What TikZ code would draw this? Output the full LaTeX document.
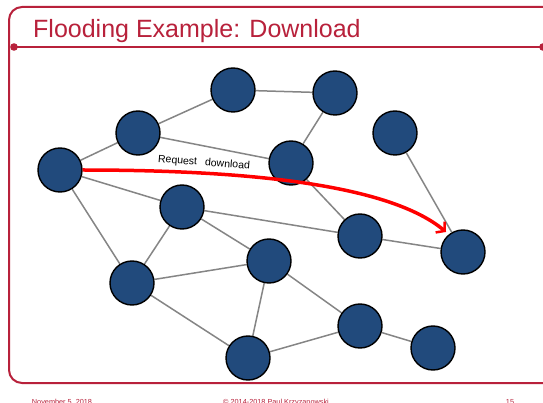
\documentclass[tikz,border=0pt]{standalone}
\usepackage{fontspec}
\setmainfont{Liberation Sans}
\usetikzlibrary{arrows.meta,backgrounds}
\definecolor{slidered}{HTML}{B8213B}
\definecolor{peerblue}{HTML}{214A7C}
\definecolor{linkgray}{HTML}{858585}
\tikzset{
  peer/.style={circle, draw=black, line width=1.4pt, fill=peerblue, minimum size=44pt, inner sep=0pt},
  link/.style={draw=linkgray, line width=1.5pt},
  request/.style={draw=red, line width=3.5pt, -{Straight Barb[length=6pt,width=14pt,line width=2.5pt]}},
  footer/.style={text=slidered, font=\fontsize{7.3}{8}\selectfont, anchor=base},
}
\begin{document}
\begin{tikzpicture}[x=1pt, y=-1pt]
\useasboundingbox (0,0) rectangle (543,403);

% peers
\node[peer] (a) at (60,170) {};
\node[peer] (b) at (138,133) {};
\node[peer] (c) at (233,90) {};
\node[peer] (d) at (335,93) {};
\node[peer] (e) at (291,163) {};
\node[peer] (f) at (395,133) {};
\node[peer] (g) at (182,207) {};
\node[peer] (h) at (360,236) {};
\node[peer] (t) at (463,252) {};
\node[peer] (i) at (132,283) {};
\node[peer] (j) at (269,261) {};
\node[peer] (k) at (360,326) {};
\node[peer] (l) at (433,348) {};
\node[peer] (m) at (248,358) {};

\begin{scope}[on background layer]
  \fill[white] (0,0) rectangle (543,403);
  % slide frame
  \draw[slidered, line width=2pt, rounded corners=13pt] (560,383) -- (9,383) -- (9,7) -- (560,7);
  \draw[slidered, line width=2.2pt] (14,47) -- (543,47);
  \fill[slidered] (14,47) circle (3.8pt) (543,47) circle (3.8pt);
  % overlay links
  \foreach \u/\v in {a/b, b/c, c/d, b/e, d/e, e/h, a/g, a/i, g/h, g/j, g/i,
                     i/j, i/m, j/m, j/k, k/m, k/l, h/t, f/t}
    \draw[link] (\u) -- (\v);
\end{scope}

% title and footer
\node[anchor=base west, text=slidered, font=\fontsize{25}{30}\selectfont, inner sep=0pt]
  (title) at (33,38) {Flooding Example: Download};
\node[footer] (date) at (62,404) {November 5, 2018};
\node[footer] (copy) at (276,404) {© 2014-2018 Paul Krzyzanowski};
\node[footer] (page) at (510,404) {15};

% download request
\draw[request] (a.east) .. controls (250,170) and (390,185) .. (446,232);
\node[font=\fontsize{10.5}{12}\selectfont, rotate=-4.5, inner sep=0pt] (lbl) at (204,163)
  {Request\hspace{8pt}download};
\end{tikzpicture}
\end{document}
